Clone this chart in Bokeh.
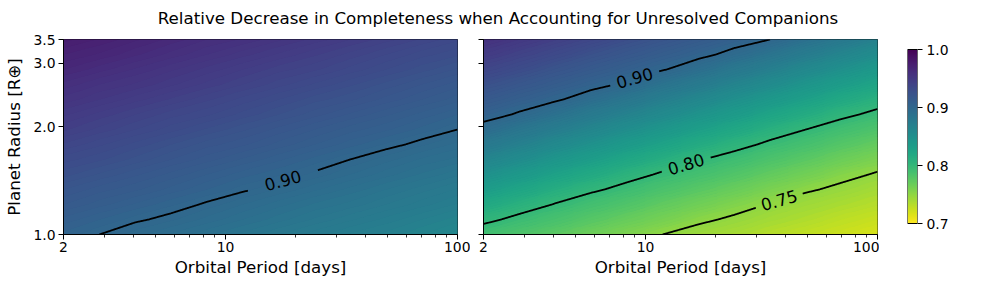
import numpy as np
import contourpy
from bokeh.plotting import figure
from bokeh.models import (Range1d, FixedTicker, PrintfTickFormatter, CustomJSTickFormatter,
                          LinearColorMapper, Label)
from bokeh.layouts import column, row
from bokeh.palettes import Viridis256
from bokeh.core.properties import value
from bokeh.embed import file_html
from bokeh.resources import INLINE

# ---------------- data ----------------
title_text = "Relative Decrease in Completeness when Accounting for Unresolved Companions"
x_label = "Orbital Period [days]"
y_label = "Planet Radius [R\u2295]"
cbar_label_1 = "Completeness Ratio"
cbar_label_2 = "(Mixed/Original)"

x_ticks = [2, 10, 100]
x_minor_ticks = [3, 4, 5, 6, 7, 8, 9, 20, 30, 40, 50, 60, 70, 80, 90]
y_ticks = [1.0, 2.0, 3.0, 3.5]
cbar_ticks = [0.7, 0.8, 0.9, 1.0]
cbar_low, cbar_high = 0.7, 1.0

# grid nodes (log-spaced) of the completeness maps
period_grid = [2.0, 2.855, 4.074, 5.813, 8.295, 11.84, 16.89, 24.11, 34.40, 49.10, 70.08, 100.0]
radius_grid = [1.0, 1.101, 1.213, 1.335, 1.470, 1.619, 1.783, 1.963, 2.162, 2.381, 2.621,
               2.887, 3.179, 3.5]

# completeness ratio, rows = radius (bottom->top), columns = period (left->right)
ratio_left = [
    [0.904, 0.900, 0.896, 0.892, 0.888, 0.884, 0.880, 0.876, 0.872, 0.869, 0.865, 0.861],
    [0.909, 0.905, 0.901, 0.898, 0.894, 0.890, 0.886, 0.882, 0.878, 0.874, 0.870, 0.866],
    [0.915, 0.911, 0.907, 0.903, 0.899, 0.895, 0.891, 0.887, 0.884, 0.880, 0.876, 0.872],
    [0.920, 0.916, 0.913, 0.909, 0.905, 0.901, 0.897, 0.893, 0.889, 0.885, 0.881, 0.877],
    [0.926, 0.922, 0.918, 0.914, 0.910, 0.906, 0.903, 0.899, 0.895, 0.891, 0.887, 0.883],
    [0.931, 0.928, 0.924, 0.920, 0.916, 0.912, 0.908, 0.904, 0.900, 0.896, 0.892, 0.889],
    [0.937, 0.933, 0.929, 0.925, 0.921, 0.918, 0.914, 0.910, 0.906, 0.902, 0.898, 0.894],
    [0.943, 0.939, 0.935, 0.931, 0.927, 0.923, 0.919, 0.915, 0.911, 0.908, 0.904, 0.900],
    [0.948, 0.944, 0.940, 0.936, 0.933, 0.929, 0.925, 0.921, 0.917, 0.913, 0.909, 0.905],
    [0.954, 0.950, 0.946, 0.942, 0.938, 0.934, 0.930, 0.926, 0.923, 0.919, 0.915, 0.911],
    [0.959, 0.955, 0.952, 0.948, 0.944, 0.940, 0.936, 0.932, 0.928, 0.924, 0.920, 0.916],
    [0.965, 0.961, 0.957, 0.953, 0.949, 0.945, 0.941, 0.938, 0.934, 0.930, 0.926, 0.922],
    [0.970, 0.967, 0.963, 0.959, 0.955, 0.951, 0.947, 0.943, 0.939, 0.935, 0.931, 0.928],
    [0.976, 0.972, 0.968, 0.964, 0.960, 0.957, 0.953, 0.949, 0.945, 0.941, 0.937, 0.933],
]
ratio_right = [
    [0.791, 0.783, 0.775, 0.766, 0.758, 0.750, 0.744, 0.739, 0.733, 0.728, 0.723, 0.717],
    [0.804, 0.795, 0.787, 0.778, 0.770, 0.762, 0.753, 0.747, 0.741, 0.736, 0.730, 0.725],
    [0.819, 0.809, 0.799, 0.790, 0.782, 0.773, 0.765, 0.757, 0.749, 0.743, 0.738, 0.733],
    [0.834, 0.824, 0.813, 0.803, 0.794, 0.785, 0.777, 0.769, 0.760, 0.752, 0.746, 0.740],
    [0.849, 0.839, 0.828, 0.818, 0.807, 0.797, 0.789, 0.781, 0.772, 0.764, 0.755, 0.748],
    [0.864, 0.854, 0.843, 0.833, 0.822, 0.812, 0.801, 0.793, 0.784, 0.776, 0.767, 0.759],
    [0.879, 0.869, 0.858, 0.848, 0.837, 0.827, 0.816, 0.806, 0.796, 0.788, 0.779, 0.771],
    [0.894, 0.883, 0.873, 0.863, 0.852, 0.842, 0.831, 0.821, 0.810, 0.800, 0.791, 0.783],
    [0.906, 0.898, 0.888, 0.877, 0.867, 0.857, 0.846, 0.836, 0.825, 0.815, 0.804, 0.795],
    [0.916, 0.909, 0.902, 0.892, 0.882, 0.871, 0.861, 0.850, 0.840, 0.830, 0.819, 0.809],
    [0.926, 0.919, 0.912, 0.905, 0.897, 0.886, 0.876, 0.865, 0.855, 0.844, 0.834, 0.824],
    [0.937, 0.930, 0.922, 0.915, 0.908, 0.901, 0.891, 0.880, 0.870, 0.859, 0.849, 0.838],
    [0.947, 0.940, 0.933, 0.925, 0.918, 0.911, 0.904, 0.895, 0.885, 0.874, 0.864, 0.853],
    [0.957, 0.950, 0.943, 0.936, 0.928, 0.921, 0.914, 0.907, 0.900, 0.889, 0.879, 0.868],
]

levels_left = [0.90]
levels_right = [0.75, 0.80, 0.90]

# contour label anchors (level, period, radius) and half-gap in px
left_label_level = [0.90]
left_label_period = [17.6]
left_label_radius = [1.43]
left_label_gap = [36]

right_label_level = [0.90, 0.80, 0.75]
right_label_period = [8.96, 14.9, 37.4]
right_label_radius = [2.72, 1.58, 1.26]
right_label_gap = [25, 25, 24]

# ---------------- layout / style ----------------
FONT = "DejaVu Sans"
FW, FH = 394, 195
TOP, BOTTOM = 10, 50
TICK_FS = "13.9px"
LABEL_FS = "16.7px"

palette = list(reversed(Viridis256))
mapper = LinearColorMapper(palette=palette, low=cbar_low, high=cbar_high)

# fine shading levels for the smooth colour field
shade_levels = list(np.round(np.arange(0.700, 1.0001, 0.0025), 4))
shade_colors = []
for a, b in zip(shade_levels[:-1], shade_levels[1:]):
    m = 0.5 * (a + b)
    k = int(np.clip((m - cbar_low) / (cbar_high - cbar_low) * 256, 0, 255))
    shade_colors.append(palette[k])

LX0, LX1 = np.log10(2.0), np.log10(100.0)
LY0, LY1 = 0.0, np.log10(3.5)


def to_px(P, R):
    return ((np.log10(P) - LX0) / (LX1 - LX0) * FW, (np.log10(R) - LY0) / (LY1 - LY0) * FH)


def from_px(sx, sy):
    return 10 ** (LX0 + sx / FW * (LX1 - LX0)), 10 ** (LY0 + sy / FH * (LY1 - LY0))


def style_axis(ax):
    ax.major_tick_out = 5
    ax.major_tick_in = 0
    ax.minor_tick_out = 3
    ax.minor_tick_in = 0
    ax.major_tick_line_color = "black"
    ax.minor_tick_line_color = "black"
    ax.major_tick_line_width = 1
    ax.minor_tick_line_width = 0.8
    ax.axis_line_color = "black"
    ax.axis_line_width = 1
    ax.major_label_text_font = FONT
    ax.major_label_text_font_size = TICK_FS
    ax.major_label_text_color = "black"
    ax.axis_label_text_font = FONT
    ax.axis_label_text_font_size = LABEL_FS
    ax.axis_label_text_font_style = "normal"
    ax.axis_label_text_color = "black"


def make_panel(values, levels, lab_level, lab_period, lab_radius, lab_gap, first):
    p = figure(frame_width=FW, frame_height=FH, x_axis_type="log", y_axis_type="log",
               x_range=Range1d(2, 100), y_range=Range1d(1, 3.5),
               toolbar_location=None, output_backend="svg",
               min_border_left=63 if first else 13, min_border_right=13 if first else 2,
               min_border_top=TOP, min_border_bottom=BOTTOM,
               background_fill_color="white", border_fill_color="white")
    p.grid.visible = False
    p.outline_line_color = "black"
    p.outline_line_alpha = 1.0
    p.outline_line_width = 1

    z = np.array(values, dtype=float)
    lxg, lyg = np.log10(period_grid), np.log10(radius_grid)
    dlx = (lxg[-1] - lxg[0]) / (len(lxg) - 1)
    dly = (lyg[-1] - lyg[0]) / (len(lyg) - 1)
    x0, x1 = 10 ** (lxg[0] - dlx / 2), 10 ** (lxg[-1] + dlx / 2)
    y0, y1 = 10 ** (lyg[0] - dly / 2), 10 ** (lyg[-1] + dly / 2)
    # base layer: the grid cells
    p.image(image=[z], x=x0, y=y0, dw=x1 - x0, dh=y1 - y0, color_mapper=mapper)
    # smooth colour field from the same grid (library contouring)
    p.contour(np.array(period_grid), np.array(radius_grid), z, shade_levels,
              fill_color=shade_colors, line_color=None)

    gen = contourpy.contour_generator(np.array(period_grid), np.array(radius_grid), z,
                                      line_type="Separate")
    xs, ys = [], []
    tx, ty, tt, ta = [], [], [], []
    for lev in levels:
        lines = []
        for seg in gen.lines(lev):
            seg = np.asarray(seg)
            if len(seg) < 2:
                continue
            sx, sy = to_px(seg[:, 0], seg[:, 1])
            d = np.hypot(np.diff(sx), np.diff(sy))
            s = np.concatenate([[0.0], np.cumsum(d)])
            if s[-1] <= 0:
                continue
            n = int(s[-1] / 0.5) + 2
            ss = np.linspace(0, s[-1], n)
            lines.append((np.interp(ss, s, sx), np.interp(ss, s, sy)))
        centers = []
        for L, P, R, G in zip(lab_level, lab_period, lab_radius, lab_gap):
            if abs(L - lev) > 1e-9 or not lines:
                continue
            ax_, ay_ = to_px(P, R)
            best = None
            for li, (qx, qy) in enumerate(lines):
                dd = np.hypot(qx - ax_, qy - ay_)
                i = int(np.argmin(dd))
                if best is None or dd[i] < best[0]:
                    best = (dd[i], li, i)
            _, li, i = best
            qx, qy = lines[li]
            i0, i1 = max(i - 20, 0), min(i + 20, len(qx) - 1)
            ang = np.arctan2(qy[i1] - qy[i0], qx[i1] - qx[i0])
            if ang > np.pi / 2:
                ang -= np.pi
            if ang < -np.pi / 2:
                ang += np.pi
            centers.append((qx[i], qy[i], G))
            Pc, Rc = from_px(qx[i], qy[i])
            tx.append(float(Pc)); ty.append(float(Rc))
            tt.append(f"{lev:.2f}"); ta.append(float(ang))
        for qx, qy in lines:
            keep = np.ones(len(qx), bool)
            for cx, cy, G in centers:
                keep &= np.hypot(qx - cx, qy - cy) > G
            idx = np.flatnonzero(keep)
            if len(idx) == 0:
                continue
            breaks = np.flatnonzero(np.diff(idx) > 1)
            for run in np.split(idx, breaks + 1):
                if len(run) < 2:
                    continue
                Pr, Rr = from_px(qx[run], qy[run])
                xs.append(Pr); ys.append(Rr)
    p.multi_line(xs=xs, ys=ys, line_color="black", line_width=1.8)
    p.text(x=tx, y=ty, text=tt, angle=ta, text_align="center", text_baseline="middle",
           text_font=value(FONT), text_font_size=value(LABEL_FS), text_color="black")

    p.xaxis.ticker = FixedTicker(ticks=x_ticks, minor_ticks=x_minor_ticks)
    p.xaxis.formatter = PrintfTickFormatter(format="%d")
    p.xaxis.axis_label = x_label
    p.xaxis.major_label_standoff = 2
    p.xaxis.axis_label_standoff = 2
    p.yaxis.ticker = FixedTicker(ticks=y_ticks, minor_ticks=[])
    if first:
        p.yaxis.formatter = PrintfTickFormatter(format="%.1f")
        p.yaxis.axis_label = y_label
        p.yaxis.major_label_standoff = 3
        p.yaxis.axis_label_standoff = 6
    else:
        p.yaxis.formatter = CustomJSTickFormatter(code="return ''")
        p.yaxis.major_label_standoff = 0
    style_axis(p.xaxis[0])
    style_axis(p.yaxis[0])
    return p


p_left = make_panel(ratio_left, levels_left, left_label_level, left_label_period,
                    left_label_radius, left_label_gap, True)
p_right = make_panel(ratio_right, levels_right, right_label_level, right_label_period,
                     right_label_radius, right_label_gap, False)

# colour bar: same frame height as the panels, bar spans 174 px of it
px_per_unit = 174 / (cbar_high - cbar_low)
cb = figure(frame_width=10, frame_height=FH, x_range=Range1d(0, 1),
            y_range=Range1d(cbar_low - 11 / px_per_unit, cbar_high + 10 / px_per_unit),
            toolbar_location=None, output_backend="svg", x_axis_location=None,
            y_axis_location="right", min_border_left=28, min_border_right=70,
            min_border_top=TOP, min_border_bottom=BOTTOM,
            background_fill_color="white", border_fill_color="white")
cb.grid.visible = False
cb.outline_line_color = None
cb.image(image=[np.linspace(cbar_low, cbar_high, 256).reshape(-1, 1)], x=0, y=cbar_low,
         dw=1, dh=cbar_high - cbar_low, color_mapper=mapper)
cb.quad(left=[0], right=[1], bottom=[cbar_low], top=[cbar_high], fill_color=None,
        line_color="black", line_width=1)
cb.yaxis.ticker = FixedTicker(ticks=cbar_ticks, minor_ticks=[])
cb.yaxis.formatter = PrintfTickFormatter(format="%.1f")
cb.yaxis.major_label_standoff = 4
style_axis(cb.yaxis[0])
cb.yaxis.axis_line_color = None
for txt, xpos in [(cbar_label_1, 5.4), (cbar_label_2, 7.1)]:
    cb.add_layout(Label(x=xpos, y=0.5 * (cbar_low + cbar_high), text=txt, angle=np.pi / 2,
                        text_align="center", text_baseline="middle", text_font=FONT,
                        text_font_size=LABEL_FS, text_color="black"))

# title
TW, TH = 987, 29
t = figure(width=TW, height=TH, x_range=Range1d(0, TW), y_range=Range1d(0, TH),
           toolbar_location=None, output_backend="svg", min_border=0,
           x_axis_location=None, y_axis_location=None, outline_line_color=None,
           background_fill_color="white", border_fill_color="white")
t.grid.visible = False
t.text(x=[497.5], y=[TH - 17], text=[title_text], text_align="center", text_baseline="middle",
       text_font=value(FONT), text_font_size=value(LABEL_FS), text_color="black")

layout = column(t, row(p_left, p_right, cb))
open("out.html", "w").write(file_html(layout, INLINE))
